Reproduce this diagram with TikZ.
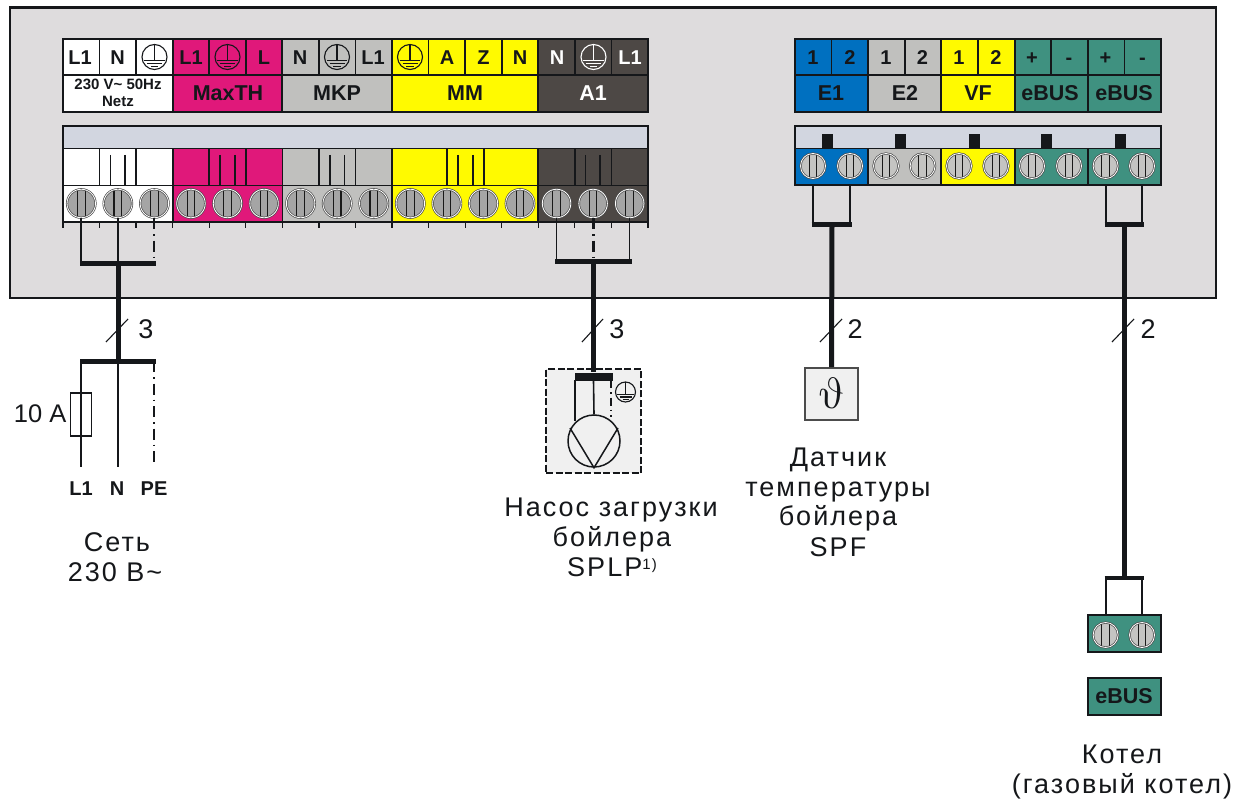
\documentclass[tikz,border=0pt]{standalone}
\usepackage{fontspec}
\usepackage{graphicx}
\setmainfont{Liberation Sans}
\definecolor{panelc}{HTML}{DEDCDD}
\definecolor{linec}{HTML}{15171A}
\definecolor{magc}{HTML}{E0187A}
\definecolor{grayc}{HTML}{C0C0BE}
\definecolor{yelc}{HTML}{FFFA00}
\definecolor{darkc}{HTML}{4D4845}
\definecolor{bluec}{HTML}{0070C0}
\definecolor{tealc}{HTML}{3F9180}
\definecolor{barc}{HTML}{D2D6E0}
\definecolor{boxc}{HTML}{F0F0F0}
\definecolor{screwa}{HTML}{A5A5A5}
\definecolor{screwb}{HTML}{C4C4C2}
\newfontfamily\spaced[LetterSpace=7.5]{Liberation Sans}
\newcommand{\capfont}{\fontsize{20}{22}\selectfont\bfseries}
\newcommand{\namefont}{\fontsize{21.5}{23}\selectfont\bfseries}
\newcommand{\bigtxt}{\fontsize{27}{30}\selectfont\spaced}
\newcommand{\gndsym}[4]{% x,y,r,colour
  \draw[#4,line width=1.1] (#1,#2) circle (#3);
  \draw[#4,line width=1.1] (#1,{#2-#3}) -- (#1,{#2+.25*#3});
  \draw[#4,line width=1.1] ({#1-.82*#3},{#2+.25*#3}) -- ({#1+.82*#3},{#2+.25*#3});
  \draw[#4,line width=1.1] ({#1-.6*#3},{#2+.5*#3}) -- ({#1+.6*#3},{#2+.5*#3});
  \draw[#4,line width=1.1] ({#1-.3*#3},{#2+.75*#3}) -- ({#1+.3*#3},{#2+.75*#3});
}
\tikzset{
  frame/.style={draw=linec,line width=1.8},
  sep/.style={draw=linec,line width=1.7},
  lab/.style={anchor=base,inner sep=0,font=\capfont,text=linec},
  nam/.style={anchor=base,inner sep=0,font=\namefont,text=linec},
  txt/.style={anchor=base,inner sep=0,font=\bigtxt,text=linec,align=center},
  screw/.style={circle,inner sep=0,minimum size=#1,draw=black!70,double=white,double distance=.8,line width=.7,
    path picture={\draw[black!90,line width=1.1]
      ([xshift=-3.8]path picture bounding box.north) -- ([xshift=-3.8]path picture bounding box.south)
      ([xshift=3.8]path picture bounding box.north) -- ([xshift=3.8]path picture bounding box.south);}},
  wire/.style={draw=linec,line width=1.8},
  bus/.style={draw=linec,line width=5},
  trunk/.style={draw=linec,line width=5},
  pe/.style={draw=linec,line width=1.9,dash pattern=on 11 off 5 on 1.5 off 5},
  slash/.style={draw=linec,line width=1.1}
}
\begin{document}
\begin{tikzpicture}[x=1pt,y=-1pt]
\useasboundingbox (0,0) rectangle (1237,805);
\fill[white] (0,0) rectangle (1237,805);
\node[draw=linec,line width=2.6,fill=panelc,inner sep=0,minimum width=1206,minimum height=290,anchor=north west] (panel) at (8.5,6.5) {};

%%% Left terminal block: cells x_i = 63 + 36.56 i
\def\X#1{(63+36.56*(#1))}
\foreach \a/\b/\c in {0/3/white,3/6/magc,6/9/grayc,9/13/yelc,13/16/darkc}{
  \fill[\c] ({\X{\a}},39) rectangle ({\X{\b}},112);
  \fill[\c] ({\X{\a}},148.5) rectangle ({\X{\b}},222);
  \draw[sep,line width=2] ({\X{\a}},39) -- ({\X{\a}},112);
  \draw[sep,line width=2] ({\X{\b}},39) -- ({\X{\b}},112);
  \draw[sep] ({\X{\a}},148.5) -- ({\X{\a}},222);
}
\fill[barc] (63,126) rectangle (648,148.5);
\draw[frame] (63,39) rectangle (648,112);
\draw[frame] (63,126) rectangle (648,222);
\draw[sep] (63,75) -- (648,75);
\draw[sep] (63,148.5) -- (648,148.5);
\draw[sep] (63,185.5) -- (648,185.5);
\foreach \i in {1,2,4,5,7,8,10,11,12,14,15}{\draw[sep] ({\X{\i}},39) -- ({\X{\i}},75);}
\foreach \i in {0,...,16}{\draw[sep,line width=1.3] ({\X{\i}},222) -- ({\X{\i}},228);}
% inner contact marks
\foreach \a in {1,4,7,14}{
  \draw[sep] ({\X{\a}},148.5) -- ({\X{\a}},185.5);
  \draw[sep] ({\X{\a+1}},148.5) -- ({\X{\a+1}},185.5);
  \draw[sep] ({\X{\a}+10.8},155) -- ({\X{\a}+10.8},185.5);
  \draw[sep] ({\X{\a}+25.5},155) -- ({\X{\a}+25.5},185.5);
}
\draw[sep] (447,148.5) -- (447,185.5);
\draw[sep] (484,148.5) -- (484,185.5);
\draw[sep] (458,155) -- (458,185.5);
\draw[sep] (473,155) -- (473,185.5);
% screws
\foreach \i in {0,...,15}{
  \node[screw=28.5,fill=screwa] (ls\i) at ({\X{\i+.5}},203.5) {};
}
% labels
\node[lab] (l0) at (80,65) {L1};
\node[lab] (l1) at (117.5,65) {N};
\gndsym{154.5}{57}{12.5}{linec}
\node[lab] (l3) at (191,65) {L1};
\gndsym{227.5}{57}{12.5}{linec}
\node[lab] (l5) at (264,65) {L};
\node[lab] (l6) at (300,65) {N};
\gndsym{337}{57}{12.5}{linec}
\node[lab] (l8) at (373,65) {L1};
\gndsym{410}{57}{12.5}{linec}
\node[lab] (l10) at (447,65) {A};
\node[lab] (l11) at (483.5,65) {Z};
\node[lab] (l12) at (520,65) {N};
\node[lab,text=white] (l13) at (557,65) {N};
\gndsym{593.5}{57}{12.5}{white}
\node[lab,text=white] (l15) at (630,65) {L1};
\node[anchor=base,inner sep=0,font=\fontsize{15}{16}\selectfont\bfseries,text=linec] (net1) at (118,90) {230 V\textasciitilde{} 50Hz};
\node[anchor=base,inner sep=0,font=\fontsize{15}{16}\selectfont\bfseries,text=linec] (net2) at (118,107) {Netz};
\node[nam] (n1) at (228,101) {MaxTH};
\node[nam] (n2) at (337,101) {MKP};
\node[nam] (n3) at (465,101) {MM};
\node[nam,text=white] (n4) at (593,101) {A1};

%%% Right terminal block: cells x_i = 795 + 36.6 i
\def\Y#1{(795+36.6*(#1))}
\foreach \a/\b/\c in {0/2/bluec,2/4/grayc,4/6/yelc,6/8/tealc,8/10/tealc}{
  \fill[\c] ({\Y{\a}},39) rectangle ({\Y{\b}},112);
  \fill[\c] ({\Y{\a}},148.5) rectangle ({\Y{\b}},185);
  \draw[sep,line width=2] ({\Y{\a}},39) -- ({\Y{\a}},112);
  \draw[sep,line width=2] ({\Y{\a}},148.5) -- ({\Y{\a}},185);
}
\fill[barc] (795,126) rectangle (1161,148.5);
\draw[frame] (795,39) rectangle (1161,112);
\draw[frame] (795,126) rectangle (1161,185);
\draw[sep] (795,75) -- (1161,75);
\draw[sep] (795,148.5) -- (1161,148.5);
\foreach \i in {1,3,5,7,9}{\draw[sep] ({\Y{\i}},39) -- ({\Y{\i}},75);}
\foreach \x in {827.3,900,974,1046,1120}{\fill[linec] ({\x-5.5},134) rectangle ({\x+5.5},149);}
\foreach \i/\x in {0/813,1/850,2/886,3/922.6,4/959,5/996,6/1032,7/1069,8/1105.6,9/1142}{
  \node[screw=25,fill=screwb] (rs\i) at (\x,166) {};
}
\foreach \t/\x/\s/\c in {1/813/a/linec,2/850/b/linec,1/886/c/linec,2/922.5/d/linec,1/959/e/linec,2/996/f/linec,+/1032/g/linec,-/1069/h/linec,+/1105.5/i/linec,-/1142.5/j/linec}{
  \node[lab,text=\c] (r\s) at (\x,65) {\t};
}
\node[nam] (e1) at (831,101) {E1};
\node[nam] (e2) at (905,101) {E2};
\node[nam] (vf) at (978,101) {VF};
\node[nam] (eb1) at (1050,101) {eBUS};
\node[nam] (eb2) at (1124,101) {eBUS};

%%% Coordinates of the buses
\coordinate (busA) at (118,263);
\coordinate (busB) at (118,361);
\coordinate (busC) at (593.5,261.5);
\coordinate (busD) at (832,224.5);
\coordinate (busE) at (1124.5,224.5);
\coordinate (busF) at (1124.5,578);

%%% Mains connection
\draw[wire] (ls0.south) -- (ls0.south |- busA);
\draw[wire] (ls1.south) -- (ls1.south |- busA);
\draw[pe] (ls2.south) -- (ls2.south |- busA);
\draw[bus] (80,263) -- (156,263);
\draw[trunk] (busA) -- (busB);
\draw[bus] (80,361) -- (156,361);
\coordinate (m1) at (81,467);
\coordinate (m2) at (118,467);
\coordinate (m3) at (154,467);
\draw[wire] (m1 |- busB) -- (m1);
\draw[wire] (m2 |- busB) -- (m2);
\draw[pe] (m3 |- busB) -- (m3);
\node[draw=linec,line width=1.7,fill=none,inner sep=0,minimum width=21,minimum height=43] (fuse) at (81,414.5) {};
\node[anchor=base east,inner sep=0,font=\fontsize{25.5}{28}\selectfont,text=linec] (amp) at (66.5,422) {10 A};
\draw[slash] (106,342) -- (128,319);
\node[anchor=base,inner sep=0,font=\fontsize{27}{30}\selectfont,text=linec] (c1) at (146,338.5) {3};
\node[anchor=base,inner sep=0,font=\fontsize{20}{22}\selectfont\bfseries,text=linec] (t1) at (81,495) {L1};
\node[anchor=base,inner sep=0,font=\fontsize{20}{22}\selectfont\bfseries,text=linec] (t2) at (117,495) {N};
\node[anchor=base,inner sep=0,font=\fontsize{20}{22}\selectfont\bfseries,text=linec] (t3) at (154,495) {PE};
\node[txt] (s1) at (117,551) {Сеть};
\node[txt] (s2) at (115,581) {230 В\textasciitilde};

%%% Pump
\node[draw=linec,line width=1.8,dash pattern=on 7 off 2.5,fill=boxc,inner sep=0,minimum width=95,minimum height=104] (pump) at (593.5,421) {};
\draw[wire,line width=1.5] (ls13.south) -- (ls13.south |- busC);
\draw[wire,line width=1.5] (ls15.south) -- (ls15.south |- busC);
\draw[pe,line width=3.2] (ls14.south) -- (ls14.south |- busC);
\draw[bus] (555,261.5) -- (632,261.5);
\node[fill=linec,inner sep=0,minimum width=38,minimum height=8] (pbar) at (593.5,376.5) {};
\draw[trunk] (busC) -- (pbar.north);
\node[circle,draw=linec,line width=1.5,fill=none,inner sep=0,minimum size=52] (motor) at (594,441) {};
\draw[wire,line width=1.4] (575,380) -- (575,421);
\draw[wire,line width=1.6] (pbar.south) -- (motor.north);
\draw[pe,line width=2.8,dash pattern=on 8 off 4 on 1.5 off 4] (611,380) -- (611,417);
\draw[wire,line width=1.5] (570,428) -- (motor.south) -- (618,428);
\gndsym{625.5}{392}{10}{linec}
\draw[slash] (582,342) -- (603,319);
\node[anchor=base,inner sep=0,font=\fontsize{27}{30}\selectfont,text=linec] (c2) at (617,338.5) {3};
\node[txt] (p1) at (611,516) {Насос загрузки};
\node[txt] (p2) at (612,546) {бойлера};
\node[txt] (p3) at (612,576) {SPLP\raisebox{7pt}{\fontsize{15}{16}\selectfont 1)}};

%%% Sensor
\node[draw=black!70,line width=1.7,fill=boxc,inner sep=0,minimum width=53,minimum height=52] (sens) at (831.5,394) {};
\node[inner sep=0,text=linec,xslant=-.22,transform shape] (theta) at (831,393) {\scalebox{4.4}{$\vartheta$}};
\draw[wire] (rs0.south |- 0,185) -- (rs0.south |- busD);
\draw[wire] (rs1.south |- 0,185) -- (rs1.south |- busD);
\draw[bus,line width=4.5] (811.5,224.5) -- (851.5,224.5);
\draw[trunk] (busD) -- (sens.north);
\draw[slash] (820,342) -- (842,319);
\node[anchor=base,inner sep=0,font=\fontsize{27}{30}\selectfont,text=linec] (c3) at (855,338.5) {2};
\node[txt] (q1) at (838,466) {Датчик};
\node[txt] (q2) at (838,496) {температуры};
\node[txt] (q3) at (838,525) {бойлера};
\node[txt] (q4) at (838,556) {SPF};

%%% Boiler
\draw[wire] (rs8.south |- 0,185) -- (rs8.south |- busE);
\draw[wire] (rs9.south |- 0,185) -- (rs9.south |- busE);
\draw[bus,line width=4.5] (1104.5,224.5) -- (1143.5,224.5);
\draw[trunk] (busE) -- (busF);
\draw[slash] (1112,342) -- (1134,319);
\node[anchor=base,inner sep=0,font=\fontsize{27}{30}\selectfont,text=linec] (c4) at (1148,338.5) {2};
\draw[bus,line width=4.5] (1104.5,578) -- (1143.5,578);
\node[draw=linec,line width=2.2,fill=tealc,inner sep=0,minimum width=73,minimum height=37] (term) at (1124.5,633.5) {};
\node[screw=25,fill=screwb] (bs0) at (1105.6,635) {};
\node[screw=25,fill=screwb] (bs1) at (1142,635) {};
\draw[wire] (bs0 |- busF) -- (bs0 |- term.north);
\draw[wire] (bs1 |- busF) -- (bs1 |- term.north);
\node[draw=linec,line width=2.2,fill=tealc,inner sep=0,minimum width=73,minimum height=37] (bbox) at (1124.5,696.5) {};
\node[nam] (bl) at (1124,703.5) {eBUS};
\node[txt] (k1) at (1122,763) {Котел};
\node[txt] (k2) at (1122,793) {(газовый котел)};
\end{tikzpicture}
\end{document}
